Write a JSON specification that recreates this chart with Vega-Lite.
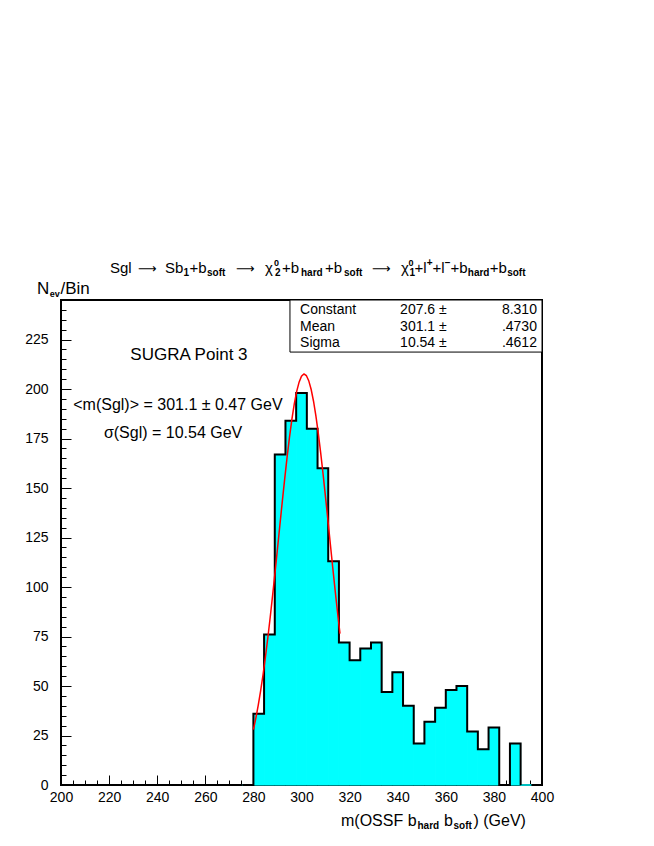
{
  "$schema": "https://vega.github.io/schema/vega-lite/v6.json",
  "width": 481,
  "height": 485,
  "autosize": {"type": "none"},
  "padding": {"left": 61, "top": 300, "right": 112, "bottom": 61},
  "background": "white",
  "config": {
    "view": {"stroke": "black", "strokeWidth": 2},
    "text": {"font": "Liberation Sans", "color": "black", "baseline": "alphabetic", "align": "left"}
  },
  "resolve": {"axis": {"x": "independent", "y": "independent"}},
  "datasets": {
    "bins": [
      {"lo": 275.56, "hi": 280.0, "n": 0},
      {"lo": 280.0, "hi": 284.44, "n": 36},
      {"lo": 284.44, "hi": 288.89, "n": 76},
      {"lo": 288.89, "hi": 293.33, "n": 167},
      {"lo": 293.33, "hi": 297.78, "n": 184},
      {"lo": 297.78, "hi": 302.22, "n": 198},
      {"lo": 302.22, "hi": 306.67, "n": 180},
      {"lo": 306.67, "hi": 311.11, "n": 160},
      {"lo": 311.11, "hi": 315.56, "n": 113},
      {"lo": 315.56, "hi": 320.0, "n": 72},
      {"lo": 320.0, "hi": 324.44, "n": 63},
      {"lo": 324.44, "hi": 328.89, "n": 69},
      {"lo": 328.89, "hi": 333.33, "n": 72},
      {"lo": 333.33, "hi": 337.78, "n": 47},
      {"lo": 337.78, "hi": 342.22, "n": 57},
      {"lo": 342.22, "hi": 346.67, "n": 40},
      {"lo": 346.67, "hi": 351.11, "n": 21},
      {"lo": 351.11, "hi": 355.56, "n": 32},
      {"lo": 355.56, "hi": 360.0, "n": 39},
      {"lo": 360.0, "hi": 364.44, "n": 48},
      {"lo": 364.44, "hi": 368.89, "n": 50},
      {"lo": 368.89, "hi": 373.33, "n": 27},
      {"lo": 373.33, "hi": 377.78, "n": 18},
      {"lo": 377.78, "hi": 382.22, "n": 29},
      {"lo": 382.22, "hi": 386.67, "n": 0},
      {"lo": 386.67, "hi": 391.11, "n": 21},
      {"lo": 391.11, "hi": 395.56, "n": 0}
    ],
    "fit": [
      {"m": 280, "f": 27.98}, {"m": 281, "f": 33.69}, {"m": 282, "f": 40.19}, {"m": 283, "f": 47.52},
      {"m": 284, "f": 55.68}, {"m": 285, "f": 64.65}, {"m": 286, "f": 74.40}, {"m": 287, "f": 84.85},
      {"m": 288, "f": 95.89}, {"m": 289, "f": 107.42}, {"m": 290, "f": 119.23}, {"m": 291, "f": 131.16},
      {"m": 292, "f": 143.02}, {"m": 293, "f": 154.52}, {"m": 294, "f": 165.46}, {"m": 295, "f": 175.59},
      {"m": 296, "f": 184.66}, {"m": 297, "f": 192.47}, {"m": 298, "f": 198.82}, {"m": 299, "f": 203.51},
      {"m": 300, "f": 206.47}, {"m": 301, "f": 207.59}, {"m": 301.1, "f": 207.6}, {"m": 302, "f": 206.84},
      {"m": 303, "f": 204.25}, {"m": 304, "f": 199.89}, {"m": 305, "f": 193.86}, {"m": 306, "f": 186.34},
      {"m": 307, "f": 177.50}, {"m": 308, "f": 167.56}, {"m": 309, "f": 156.75}, {"m": 310, "f": 145.33},
      {"m": 311, "f": 133.55}, {"m": 312, "f": 121.61}, {"m": 313, "f": 109.76}, {"m": 314, "f": 98.16},
      {"m": 315, "f": 87.00}, {"m": 316, "f": 76.43}
    ]
  },
  "layer": [
    {
      "data": {"name": "bins"},
      "mark": {"type": "rect", "fill": "#00ffff", "stroke": "#00ffff", "strokeWidth": 1},
      "encoding": {
        "x": {"field": "lo", "type": "quantitative",
              "scale": {"domain": [200, 400], "nice": false, "zero": false},
              "axis": {"orient": "bottom", "values": [200,220,240,260,280,300,320,340,360,380,400], "tickSize": -10, "tickColor": "black", "tickWidth": 1, "labelPadding": 15, "labelFont": "Liberation Sans", "labelFontSize": 14, "labelColor": "black", "domain": false, "grid": false, "title": null, "labelFlush": false, "labelOverlap": false}},
        "x2": {"field": "hi"},
        "y": {"field": "n", "type": "quantitative",
              "scale": {"domain": [0, 245], "nice": false},
              "axis": {"orient": "left", "values": [0,25,50,75,100,125,150,175,200,225], "tickSize": -10, "tickColor": "black", "tickWidth": 1, "labelPadding": 23, "labelFont": "Liberation Sans", "labelFontSize": 14, "labelColor": "black", "domain": false, "grid": false, "title": null, "labelFlush": false, "labelOverlap": false}},
        "y2": {"datum": 0}
      }
    },
    {
      "data": {"name": "bins"},
      "mark": {"type": "line", "interpolate": "step-after", "color": "black", "strokeWidth": 2},
      "encoding": {
        "x": {"field": "lo", "type": "quantitative",
              "scale": {"domain": [200, 400], "nice": false, "zero": false},
              "axis": {"orient": "bottom", "values": [200,205,210,215,220,225,230,235,240,245,250,255,260,265,270,275,280,285,290,295,300,305,310,315,320,325,330,335,340,345,350,355,360,365,370,375,380,385,390,395,400], "tickSize": -5, "tickColor": "black", "labels": false, "domain": false, "grid": false, "title": null}},
        "y": {"field": "n", "type": "quantitative",
              "scale": {"domain": [0, 245], "nice": false},
              "axis": {"orient": "left", "values": [0,5,10,15,20,25,30,35,40,45,50,55,60,65,70,75,80,85,90,95,100,105,110,115,120,125,130,135,140,145,150,155,160,165,170,175,180,185,190,195,200,205,210,215,220,225,230,235,240,245], "tickSize": -5, "tickColor": "black", "labels": false, "domain": false, "grid": false, "title": null}},
        "order": {"field": "lo", "type": "quantitative"}
      }
    },
    {
      "data": {"name": "fit"},
      "mark": {"type": "line", "color": "#ff0000", "strokeWidth": 1.5},
      "encoding": {
        "x": {"field": "m", "type": "quantitative", "axis": null, "scale": {"domain": [200, 400], "nice": false, "zero": false}},
        "y": {"field": "f", "type": "quantitative", "axis": null, "scale": {"domain": [0, 245], "nice": false}}
      }
    },
    {
      "data": {"values": [{}]},
      "mark": {"type": "rect", "fill": "white", "stroke": "black", "strokeWidth": 1},
      "encoding": {"x": {"datum": 295.2, "axis": null}, "x2": {"datum": 400}, "y": {"datum": 245, "axis": null}, "y2": {"datum": 218.7}}
    },
    {"data": {"values": [{}]}, "mark": {"type": "text", "fontSize": 14, "baseline": "top", "lineHeight": 16.8},
     "encoding": {"x": {"datum": 299.4, "axis": null}, "y": {"datum": 243.6, "axis": null}, "text": {"value": ["Constant", "Mean", "Sigma"]}}},
    {"data": {"values": [{}]}, "mark": {"type": "text", "fontSize": 14, "baseline": "top", "lineHeight": 16.8},
     "encoding": {"x": {"datum": 341.0, "axis": null}, "y": {"datum": 243.6, "axis": null}, "text": {"value": ["207.6 ±", "301.1 ±", "10.54 ±"]}}},
    {"data": {"values": [{}]}, "mark": {"type": "text", "fontSize": 14, "baseline": "top", "lineHeight": 16.8, "align": "right"},
     "encoding": {"x": {"datum": 397.9, "axis": null}, "y": {"datum": 243.6, "axis": null}, "text": {"value": ["8.310", ".4730", ".4612"]}}},

    {"data": {"values": [{}]}, "mark": {"type": "text", "fontSize": 17, "align": "center", "baseline": "middle"},
     "encoding": {"x": {"datum": 253.2, "axis": null}, "y": {"datum": 217.2, "axis": null}, "text": {"value": "SUGRA Point 3"}}},
    {"data": {"values": [{}]}, "mark": {"type": "text", "fontSize": 16, "align": "center", "baseline": "middle"},
     "encoding": {"x": {"datum": 248.6, "axis": null}, "y": {"datum": 191.9, "axis": null}, "text": {"value": "<m(Sgl)> = 301.1 ± 0.47 GeV"}}},
    {"data": {"values": [{}]}, "mark": {"type": "text", "fontSize": 16, "align": "center", "baseline": "middle"},
     "encoding": {"x": {"datum": 246.6, "axis": null}, "y": {"datum": 177.8, "axis": null}, "text": {"value": "σ(Sgl) = 10.54 GeV"}}},

    {"data": {"values": [{}]}, "mark": {"type": "text", "fontSize": 15}, "encoding": {"x": {"datum": 220.37, "axis": null}, "y": {"datum": 258.8, "axis": null}, "text": {"value": "Sgl"}}},
    {"data": {"values": [{}]}, "mark": {"type": "text", "fontSize": 13, "font": "DejaVu Sans"}, "encoding": {"x": {"datum": 232.02, "axis": null}, "y": {"datum": 258.8, "axis": null}, "text": {"value": "⟶"}}},
    {"data": {"values": [{}]}, "mark": {"type": "text", "fontSize": 15}, "encoding": {"x": {"datum": 243.24, "axis": null}, "y": {"datum": 258.8, "axis": null}, "text": {"value": "Sb"}}},
    {"data": {"values": [{}]}, "mark": {"type": "text", "fontSize": 10, "fontWeight": "bold", "dy": 3}, "encoding": {"x": {"datum": 250.98, "axis": null}, "y": {"datum": 258.8, "axis": null}, "text": {"value": "1"}}},
    {"data": {"values": [{}]}, "mark": {"type": "text", "fontSize": 15}, "encoding": {"x": {"datum": 253.43, "axis": null}, "y": {"datum": 258.8, "axis": null}, "text": {"value": "+b"}}},
    {"data": {"values": [{}]}, "mark": {"type": "text", "fontSize": 10, "fontWeight": "bold", "dy": 3}, "encoding": {"x": {"datum": 260.71, "axis": null}, "y": {"datum": 258.8, "axis": null}, "text": {"value": "soft"}}},
    {"data": {"values": [{}]}, "mark": {"type": "text", "fontSize": 13, "font": "DejaVu Sans"}, "encoding": {"x": {"datum": 272.77, "axis": null}, "y": {"datum": 258.8, "axis": null}, "text": {"value": "⟶"}}},
    {"data": {"values": [{}]}, "mark": {"type": "text", "fontSize": 15}, "encoding": {"x": {"datum": 284.82, "axis": null}, "y": {"datum": 258.8, "axis": null}, "text": {"value": "χ"}}},
    {"data": {"values": [{}]}, "mark": {"type": "text", "fontSize": 9, "fontWeight": "bold", "dy": -7}, "encoding": {"x": {"datum": 288.57, "axis": null}, "y": {"datum": 258.8, "axis": null}, "text": {"value": "0"}}},
    {"data": {"values": [{}]}, "mark": {"type": "text", "fontSize": 10, "fontWeight": "bold", "dy": 3}, "encoding": {"x": {"datum": 288.98, "axis": null}, "y": {"datum": 258.8, "axis": null}, "text": {"value": "2"}}},
    {"data": {"values": [{}]}, "mark": {"type": "text", "fontSize": 15}, "encoding": {"x": {"datum": 291.89, "axis": null}, "y": {"datum": 258.8, "axis": null}, "text": {"value": "+b"}}},
    {"data": {"values": [{}]}, "mark": {"type": "text", "fontSize": 10, "fontWeight": "bold", "dy": 3}, "encoding": {"x": {"datum": 299.79, "axis": null}, "y": {"datum": 258.8, "axis": null}, "text": {"value": "hard"}}},
    {"data": {"values": [{}]}, "mark": {"type": "text", "fontSize": 15}, "encoding": {"x": {"datum": 309.77, "axis": null}, "y": {"datum": 258.8, "axis": null}, "text": {"value": "+b"}}},
    {"data": {"values": [{}]}, "mark": {"type": "text", "fontSize": 10, "fontWeight": "bold", "dy": 3}, "encoding": {"x": {"datum": 317.67, "axis": null}, "y": {"datum": 258.8, "axis": null}, "text": {"value": "soft"}}},
    {"data": {"values": [{}]}, "mark": {"type": "text", "fontSize": 13, "font": "DejaVu Sans"}, "encoding": {"x": {"datum": 329.32, "axis": null}, "y": {"datum": 258.8, "axis": null}, "text": {"value": "⟶"}}},
    {"data": {"values": [{}]}, "mark": {"type": "text", "fontSize": 15}, "encoding": {"x": {"datum": 341.37, "axis": null}, "y": {"datum": 258.8, "axis": null}, "text": {"value": "χ"}}},
    {"data": {"values": [{}]}, "mark": {"type": "text", "fontSize": 9, "fontWeight": "bold", "dy": -7}, "encoding": {"x": {"datum": 344.50, "axis": null}, "y": {"datum": 258.8, "axis": null}, "text": {"value": "0"}}},
    {"data": {"values": [{}]}, "mark": {"type": "text", "fontSize": 10, "fontWeight": "bold", "dy": 3}, "encoding": {"x": {"datum": 344.90, "axis": null}, "y": {"datum": 258.8, "axis": null}, "text": {"value": "1"}}},
    {"data": {"values": [{}]}, "mark": {"type": "text", "fontSize": 15}, "encoding": {"x": {"datum": 346.99, "axis": null}, "y": {"datum": 258.8, "axis": null}, "text": {"value": "+l"}}},
    {"data": {"values": [{}]}, "mark": {"type": "text", "fontSize": 10, "fontWeight": "bold", "dy": -7}, "encoding": {"x": {"datum": 352.10, "axis": null}, "y": {"datum": 258.8, "axis": null}, "text": {"value": "+"}}},
    {"data": {"values": [{}]}, "mark": {"type": "text", "fontSize": 15}, "encoding": {"x": {"datum": 354.47, "axis": null}, "y": {"datum": 258.8, "axis": null}, "text": {"value": "+l"}}},
    {"data": {"values": [{}]}, "mark": {"type": "text", "fontSize": 10, "fontWeight": "bold", "dy": -7}, "encoding": {"x": {"datum": 359.58, "axis": null}, "y": {"datum": 258.8, "axis": null}, "text": {"value": "−"}}},
    {"data": {"values": [{}]}, "mark": {"type": "text", "fontSize": 15}, "encoding": {"x": {"datum": 361.95, "axis": null}, "y": {"datum": 258.8, "axis": null}, "text": {"value": "+b"}}},
    {"data": {"values": [{}]}, "mark": {"type": "text", "fontSize": 10, "fontWeight": "bold", "dy": 3}, "encoding": {"x": {"datum": 369.15, "axis": null}, "y": {"datum": 258.8, "axis": null}, "text": {"value": "hard"}}},
    {"data": {"values": [{}]}, "mark": {"type": "text", "fontSize": 15}, "encoding": {"x": {"datum": 378.30, "axis": null}, "y": {"datum": 258.8, "axis": null}, "text": {"value": "+b"}}},
    {"data": {"values": [{}]}, "mark": {"type": "text", "fontSize": 10, "fontWeight": "bold", "dy": 3}, "encoding": {"x": {"datum": 385.53, "axis": null}, "y": {"datum": 258.8, "axis": null}, "text": {"value": "soft"}}},

    {"data": {"values": [{}]}, "mark": {"type": "text", "fontSize": 17}, "encoding": {"x": {"datum": 190.02, "axis": null}, "y": {"datum": 248.0, "axis": null}, "text": {"value": "N"}}},
    {"data": {"values": [{}]}, "mark": {"type": "text", "fontSize": 9, "fontWeight": "bold", "dy": 3}, "encoding": {"x": {"datum": 195.34, "axis": null}, "y": {"datum": 248.0, "axis": null}, "text": {"value": "ev"}}},
    {"data": {"values": [{}]}, "mark": {"type": "text", "fontSize": 17}, "encoding": {"x": {"datum": 199.79, "axis": null}, "y": {"datum": 248.0, "axis": null}, "text": {"value": "/Bin"}}},

    {"data": {"values": [{}]}, "mark": {"type": "text", "fontSize": 16}, "encoding": {"x": {"datum": 316.42, "axis": null}, "y": {"datum": -20.7, "axis": null}, "text": {"value": "m(OSSF b"}}},
    {"data": {"values": [{}]}, "mark": {"type": "text", "fontSize": 10, "fontWeight": "bold", "dy": 3}, "encoding": {"x": {"datum": 348.23, "axis": null}, "y": {"datum": -20.7, "axis": null}, "text": {"value": "hard"}}},
    {"data": {"values": [{}]}, "mark": {"type": "text", "fontSize": 16}, "encoding": {"x": {"datum": 359.25, "axis": null}, "y": {"datum": -20.7, "axis": null}, "text": {"value": "b"}}},
    {"data": {"values": [{}]}, "mark": {"type": "text", "fontSize": 10, "fontWeight": "bold", "dy": 3}, "encoding": {"x": {"datum": 363.20, "axis": null}, "y": {"datum": -20.7, "axis": null}, "text": {"value": "soft"}}},
    {"data": {"values": [{}]}, "mark": {"type": "text", "fontSize": 16}, "encoding": {"x": {"datum": 371.52, "axis": null}, "y": {"datum": -20.7, "axis": null}, "text": {"value": ") (GeV)"}}}
  ]
}
